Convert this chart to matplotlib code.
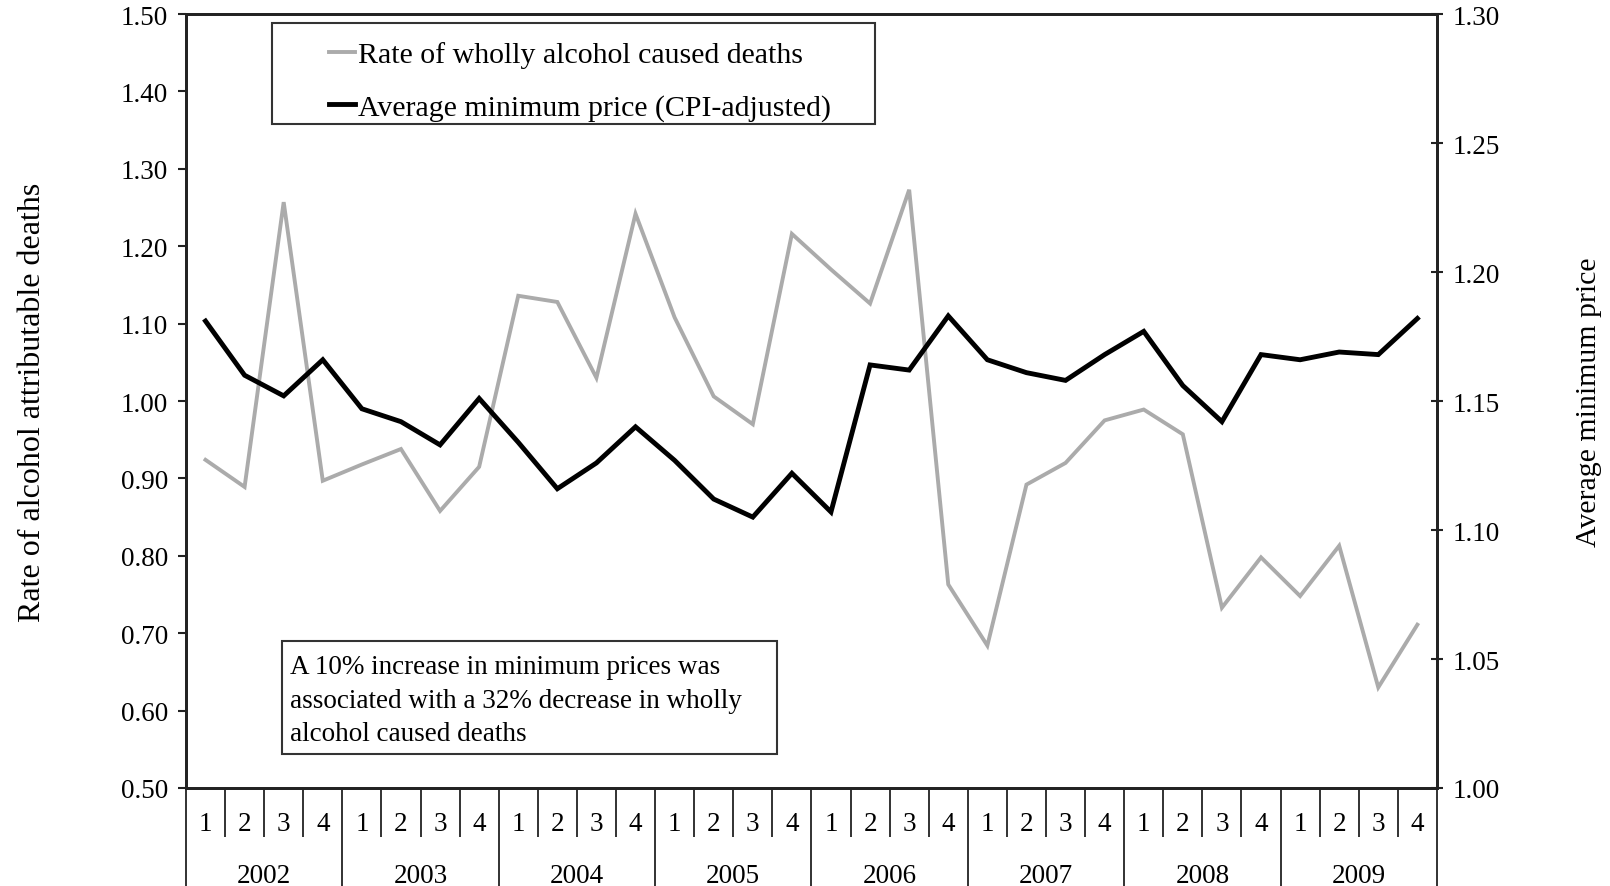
import numpy as np
import matplotlib
matplotlib.use("Agg")
from matplotlib import pyplot as plt
from matplotlib.patches import Rectangle

plt.rcParams['font.family'] = ['Liberation Serif', 'DejaVu Serif']

# data, one value per quarter 2002Q1 .. 2009Q4
years = ["2002", "2003", "2004", "2005", "2006", "2007", "2008", "2009"]
quarters = ["1", "2", "3", "4"]
death_rate = [0.924, 0.889, 1.257, 0.897, 0.918, 0.938, 0.858, 0.915,
              1.136, 1.128, 1.030, 1.242, 1.108, 1.006, 0.970, 1.216,
              1.170, 1.126, 1.273, 0.763, 0.684, 0.892, 0.920, 0.975,
              0.989, 0.957, 0.733, 0.798, 0.748, 0.813, 0.630, 0.711]
min_price = [1.181, 1.160, 1.152, 1.166, 1.147, 1.142, 1.133, 1.151,
             1.134, 1.116, 1.126, 1.140, 1.127, 1.112, 1.105, 1.122,
             1.107, 1.164, 1.162, 1.183, 1.166, 1.161, 1.158, 1.168,
             1.177, 1.156, 1.142, 1.168, 1.166, 1.169, 1.168, 1.182]
left_ticks = [0.50, 0.60, 0.70, 0.80, 0.90, 1.00, 1.10, 1.20, 1.30, 1.40, 1.50]
right_ticks = [1.00, 1.05, 1.10, 1.15, 1.20, 1.25, 1.30]

n = len(years) * len(quarters)
x = np.arange(n)
dark = '#222222'
fs = 19.5

fig = plt.figure(figsize=(16.1, 8.87), dpi=100)
ax = fig.add_axes([0.1155, 0.1105, 0.777, 0.8725])
ax2 = ax.twinx()

l1, = ax.plot(x, death_rate, color='#ababab', lw=2.8, solid_joinstyle='miter')
l2, = ax2.plot(x, min_price, color='black', lw=3.5, solid_joinstyle='miter')

ax.set_xlim(-0.5, n - 0.5)
ax.set_ylim(0.5, 1.5)
ax2.set_ylim(1.0, 1.3)

ax.set_yticks(left_ticks)
ax.set_yticklabels([f"{v:.2f}" for v in left_ticks])
ax2.set_yticks(right_ticks)
ax2.set_yticklabels([f"{v:.2f}" for v in right_ticks])
ax.tick_params(axis='y', labelsize=fs, length=6, width=1.5, color=dark, pad=7)
ax2.tick_params(axis='y', labelsize=fs, length=9, width=1.5, color=dark,
                direction='inout', pad=7)

# quarter / year separators below the axis
ax.set_xticks(np.arange(-0.5, n, 4))
ax.set_xticks(np.arange(-0.5, n, 1), minor=True)
ax.set_xticklabels([])
ax.tick_params(axis='x', which='major', length=72, width=1.3, color=dark)
ax.tick_params(axis='x', which='minor', length=35, width=1.3, color=dark)

xt = ax.get_xaxis_transform()
quarter_labels = quarters * len(years)
for i, q in enumerate(quarter_labels):
    ax.text(i, -0.046, q, transform=xt, ha='center', va='center', fontsize=fs)
for j, yr in enumerate(years):
    ax.text(4 * j + 1.5, -0.113, yr, transform=xt, ha='center', va='center', fontsize=fs)

for a in (ax, ax2):
    for s in a.spines.values():
        s.set_linewidth(2)
        s.set_color(dark)

ax.set_ylabel("Rate of alcohol attributable deaths", fontsize=23)
ax.yaxis.set_label_coords(-0.111, 0.5)
ax2.set_ylabel("Average minimum price", fontsize=21.5)
ax2.yaxis.set_label_coords(1.111, 0.5)

# legend: frame drawn by hand because the box is much wider than its text
ax2.add_patch(Rectangle((0.0687, 0.858), 0.482, 0.130, transform=ax2.transAxes,
                        facecolor='white', edgecolor='#333333', lw=1.5, zorder=4))
leg = ax2.legend([l1, l2], ["Rate of wholly alcohol caused deaths",
                            "Average minimum price (CPI-adjusted)"],
                 loc='upper left', bbox_to_anchor=(0.114, 0.965),
                 fontsize=21.5, frameon=False,
                 handlelength=0.9, handletextpad=0.1, borderpad=0,
                 labelspacing=0.85, borderaxespad=0)
leg.set_zorder(5)

ax.add_patch(Rectangle((0.0767, 0.044), 0.396, 0.146, transform=ax.transAxes,
                       facecolor='white', edgecolor='#333333', lw=1.5, zorder=4))
ax.text(0.0831, 0.173,
        "A 10% increase in minimum prices was\n"
        "associated with a 32% decrease in wholly\n"
        "alcohol caused deaths",
        transform=ax.transAxes, ha='left', va='top', fontsize=19.5,
        linespacing=1.45, zorder=5)

fig.savefig('out.png', dpi=100)
